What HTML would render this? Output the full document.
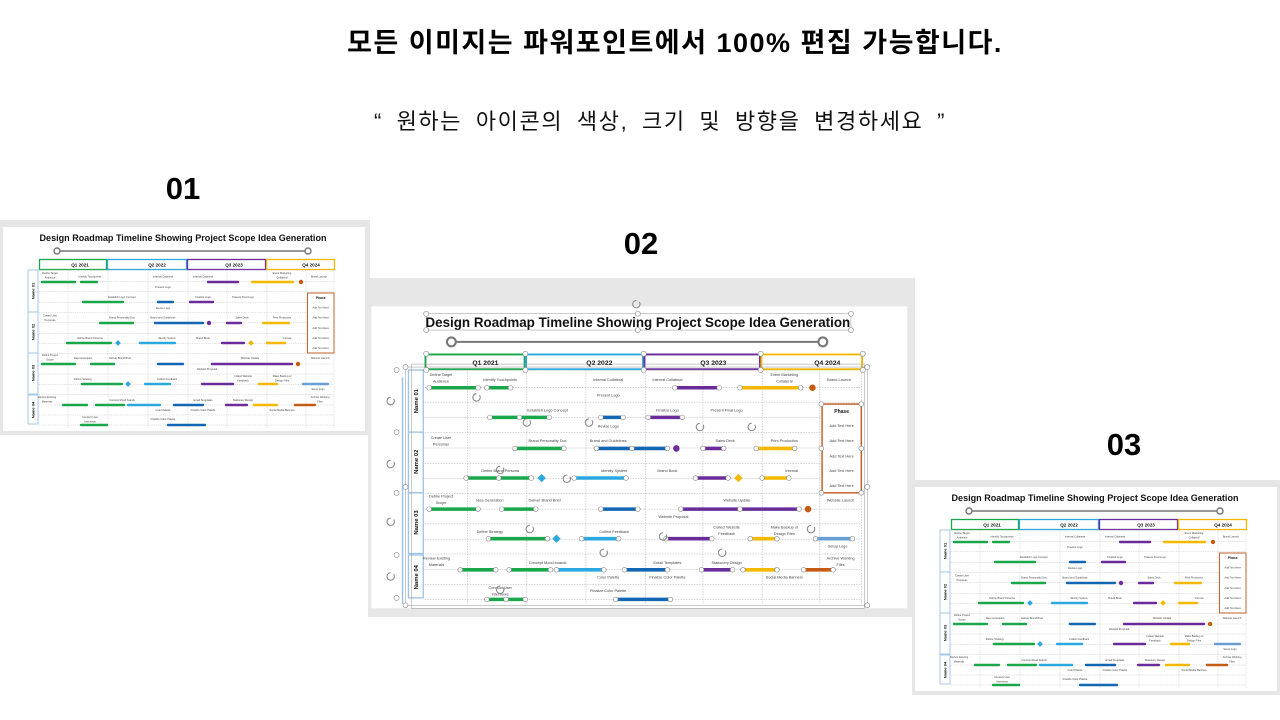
<!DOCTYPE html>
<html><head><meta charset="utf-8">
<style>
html,body{margin:0;padding:0;width:1280px;height:720px;overflow:hidden;background:#fff;font-family:"Liberation Sans","Noto Sans CJK KR",sans-serif;}
.abs{position:absolute;}
.h1{position:absolute;left:35px;width:1280px;top:21px;text-align:center;font-weight:bold;font-size:27px;letter-spacing:1.5px;color:#000;font-family:"Liberation Sans","Noto Sans CJK KR",sans-serif;white-space:nowrap;}
.h2{position:absolute;left:20px;width:1280px;top:104px;text-align:center;font-size:22px;letter-spacing:1.6px;word-spacing:6px;color:#111;font-family:"Liberation Sans","Noto Sans CJK KR",sans-serif;white-space:nowrap;}
.num{position:absolute;font-weight:bold;font-size:31px;color:#000;width:80px;text-align:center;}
svg text{font-family:"Liberation Sans",sans-serif;}
.l{font-size:2.6px;fill:#444;text-anchor:middle;}
.q{font-size:4.6px;font-weight:bold;fill:#111;text-anchor:middle;}
.n{font-size:4px;font-weight:bold;fill:#111;text-anchor:middle;}
</style></head><body>
<div class="h1">모든 이미지는 파워포인트에서 100% 편집 가능합니다.</div>
<div class="h2">“ 원하는 아이콘의 색상, 크기 및 방향을 변경하세요 ”</div>
<div class="num" style="left:143px;top:171px;">01</div>
<div class="num" style="left:601px;top:226px;">02</div>
<div class="num" style="left:1084px;top:427px;">03</div>

<!-- 01 -->
<svg class="abs" style="left:0;top:220px" width="370" height="215" viewBox="0 220 370 215">
<rect x="0" y="220" width="370" height="215" fill="#e6e6e6"/>
<rect x="3" y="227" width="362" height="204" fill="#fff"/>
<text x="183" y="241" font-size="9.5" font-weight="bold" text-anchor="middle" textLength="287" lengthAdjust="spacingAndGlyphs" fill="#111">Design Roadmap Timeline Showing Project Scope Idea Generation</text>
<line x1="57" y1="251" x2="308" y2="251" stroke="#777" stroke-width="1.4"/>
<circle cx="57" cy="251" r="3" fill="#fff" stroke="#777" stroke-width="1.4"/><circle cx="308" cy="251" r="3" fill="#fff" stroke="#777" stroke-width="1.4"/>
<g fill="none" stroke-width="1.3">
<rect x="39.5" y="259.5" width="67" height="10" stroke="#1aa64a"/>
<rect x="107.5" y="259.5" width="79" height="10" stroke="#2ba8e0"/>
<rect x="187.5" y="259.5" width="78" height="10" stroke="#6a2c9a"/>
<rect x="266.5" y="259.5" width="68" height="10" stroke="#f5b800"/>
</g>
<text class="q" x="80" y="266.5">Q1 2021</text><text class="q" x="157" y="266.5">Q2 2022</text><text class="q" x="234" y="266.5">Q3 2023</text><text class="q" x="311" y="266.5">Q4 2024</text>
<g fill="#fff" stroke="#9dc3e6" stroke-width="0.9">
<rect x="28" y="270" width="10" height="42"/><rect x="28" y="312" width="10" height="41"/><rect x="28" y="353" width="10" height="41"/><rect x="28" y="395" width="10" height="29"/>
</g>
<text class="n" transform="translate(34.5 291) rotate(-90)">Name 01</text>
<text class="n" transform="translate(34.5 332) rotate(-90)">Name 02</text>
<text class="n" transform="translate(34.5 373) rotate(-90)">Name 03</text>
<text class="n" transform="translate(34.5 410) rotate(-90)">Name 04</text>
<g stroke="#aaa" stroke-width="0.35" stroke-dasharray="1 0.8">
<line x1="39" y1="270" x2="334" y2="270"/><line x1="39" y1="281.7" x2="334" y2="281.7"/><line x1="39" y1="291.7" x2="334" y2="291.7"/><line x1="39" y1="302.3" x2="334" y2="302.3"/><line x1="39" y1="312.3" x2="334" y2="312.3"/><line x1="39" y1="322.7" x2="334" y2="322.7"/><line x1="39" y1="333.3" x2="334" y2="333.3"/><line x1="39" y1="343.3" x2="334" y2="343.3"/><line x1="39" y1="353.3" x2="334" y2="353.3"/><line x1="39" y1="364" x2="334" y2="364"/><line x1="39" y1="374" x2="334" y2="374"/><line x1="39" y1="384.3" x2="334" y2="384.3"/><line x1="39" y1="394.3" x2="334" y2="394.3"/><line x1="39" y1="405" x2="334" y2="405"/><line x1="39" y1="415" x2="334" y2="415"/><line x1="39" y1="425" x2="334" y2="425"/>
<line x1="68" y1="270" x2="68" y2="428"/><line x1="108" y1="270" x2="108" y2="428"/><line x1="148" y1="270" x2="148" y2="428"/><line x1="188" y1="270" x2="188" y2="428"/><line x1="227" y1="270" x2="227" y2="428"/><line x1="267" y1="270" x2="267" y2="428"/><line x1="306" y1="270" x2="306" y2="428"/><line x1="334" y1="270" x2="334" y2="428"/>
</g>
<g stroke-width="2.4" stroke-linecap="round">
<line x1="42" y1="282" x2="75" y2="282" stroke="#1aa64a"/><line x1="81" y1="282" x2="97" y2="282" stroke="#1aa64a"/><line x1="208" y1="282" x2="238" y2="282" stroke="#6a2c9a"/><line x1="252" y1="282" x2="293" y2="282" stroke="#f5b800"/>
<line x1="83" y1="302" x2="123" y2="302" stroke="#1aa64a"/><line x1="158" y1="302" x2="173" y2="302" stroke="#1565b5"/><line x1="190" y1="302" x2="213" y2="302" stroke="#6a2c9a"/>
<line x1="100" y1="323" x2="133" y2="323" stroke="#1aa64a"/><line x1="155" y1="323" x2="203" y2="323" stroke="#1565b5"/><line x1="227" y1="323" x2="241" y2="323" stroke="#6a2c9a"/><line x1="263" y1="323" x2="289" y2="323" stroke="#f5b800"/>
<line x1="67" y1="343" x2="111" y2="343" stroke="#1aa64a"/><line x1="140" y1="343" x2="175" y2="343" stroke="#2ba8e0"/><line x1="222" y1="343" x2="244" y2="343" stroke="#6a2c9a"/><line x1="267" y1="343" x2="285" y2="343" stroke="#f5b800"/>
<line x1="42" y1="364" x2="75" y2="364" stroke="#1aa64a"/><line x1="91" y1="364" x2="114" y2="364" stroke="#1aa64a"/><line x1="158" y1="364" x2="183" y2="364" stroke="#1565b5"/><line x1="212" y1="364" x2="292" y2="364" stroke="#6a2c9a"/>
<line x1="82" y1="384" x2="122" y2="384" stroke="#1aa64a"/><line x1="145" y1="384" x2="170" y2="384" stroke="#2ba8e0"/><line x1="202" y1="384" x2="233" y2="384" stroke="#6a2c9a"/><line x1="259" y1="384" x2="277" y2="384" stroke="#f5b800"/><line x1="303" y1="384" x2="328" y2="384" stroke="#6a9fd4"/>
<line x1="63" y1="405" x2="87" y2="405" stroke="#1aa64a"/><line x1="96" y1="405" x2="124" y2="405" stroke="#1aa64a"/><line x1="128" y1="405" x2="160" y2="405" stroke="#2ba8e0"/><line x1="174" y1="405" x2="203" y2="405" stroke="#1565b5"/><line x1="226" y1="405" x2="247" y2="405" stroke="#6a2c9a"/><line x1="254" y1="405" x2="277" y2="405" stroke="#f5b800"/><line x1="295" y1="405" x2="315" y2="405" stroke="#c55a11"/>
<line x1="81" y1="425" x2="107" y2="425" stroke="#1aa64a"/><line x1="168" y1="425" x2="205" y2="425" stroke="#1565b5"/>
</g>
<g>
<circle cx="301" cy="282" r="2.2" fill="#c55a11"/><circle cx="209" cy="323" r="2.2" fill="#6a2c9a"/><circle cx="298" cy="364" r="2.2" fill="#c55a11"/>
<rect x="116" y="341" width="4" height="4" fill="#2ba8e0" transform="rotate(45 118 343)"/>
<rect x="249" y="341" width="4" height="4" fill="#f5b800" transform="rotate(45 251 343)"/>
<rect x="126" y="382" width="4" height="4" fill="#2ba8e0" transform="rotate(45 128 384)"/>
</g>
<rect x="307.5" y="293" width="26.5" height="60" fill="#fff" stroke="#c0622b" stroke-width="1"/>
<text x="320.7" y="299" font-size="3.4" font-weight="bold" text-anchor="middle" fill="#222">Phase</text>
<text class="l" x="320.7" y="308.5">Add Text Here</text><text class="l" x="320.7" y="318.5">Add Text Here</text><text class="l" x="320.7" y="329">Add Text Here</text><text class="l" x="320.7" y="339">Add Text Here</text><text class="l" x="320.7" y="349">Add Text Here</text>
<g>
<text class="l" x="50" y="274">Define Target</text><text class="l" x="50" y="278.5">Audience</text>
<text class="l" x="90" y="277.5">Identify Touchpoints</text>
<text class="l" x="163" y="277.5">Internal Collateral</text><text class="l" x="203" y="277.5">Internal Collateral</text>
<text class="l" x="282" y="274">Event Marketing</text><text class="l" x="282" y="278.5">Collateral</text>
<text class="l" x="319" y="277.5">Brand Launch</text>
<text class="l" x="163" y="288">Present Logo</text>
<text class="l" x="122" y="298">Establish Logo Concept</text><text class="l" x="203" y="298">Finalize Logo</text><text class="l" x="243" y="298">Present Final Logo</text>
<text class="l" x="163" y="309">Revise Logo</text>
<text class="l" x="50" y="316.5">Create User</text><text class="l" x="50" y="321">Personas</text>
<text class="l" x="122" y="318.5">Brand Personality Doc</text><text class="l" x="163" y="318.5">Brand and Guidelines</text><text class="l" x="242" y="318.5">Sales Deck</text><text class="l" x="282" y="318.5">Print Production</text>
<text class="l" x="90" y="339">Define Brand Persona</text><text class="l" x="167" y="339">Identity System</text><text class="l" x="203" y="339">Brand Book</text><text class="l" x="287" y="339">Internal</text>
<text class="l" x="50" y="356">Define Project</text><text class="l" x="50" y="360.5">Scope</text>
<text class="l" x="83" y="359">Idea Generation</text><text class="l" x="120" y="359">Deliver Brand Brief</text><text class="l" x="250" y="359">Website Update</text><text class="l" x="320" y="359">Website Launch</text>
<text class="l" x="207" y="370">Website Proposal</text>
<text class="l" x="83" y="380">Define Strategy</text><text class="l" x="167" y="380">Collect Feedback</text>
<text class="l" x="243" y="377">Collect Website</text><text class="l" x="243" y="381.5">Feedback</text>
<text class="l" x="282" y="377">Make Backup of</text><text class="l" x="282" y="381.5">Design Files</text>
<text class="l" x="318" y="390">Setup Logo</text>
<text class="l" x="47" y="398">Review Existing</text><text class="l" x="47" y="402.5">Materials</text>
<text class="l" x="122" y="401">Concept Mood boards</text><text class="l" x="203" y="401">Email Templates</text><text class="l" x="243" y="401">Stationery Design</text>
<text class="l" x="320" y="398">Archive Working</text><text class="l" x="320" y="402.5">Files</text>
<text class="l" x="163" y="411">Color Palette</text><text class="l" x="203" y="411">Finalize Color Palette</text><text class="l" x="282" y="411">Social Media Banners</text>
<text class="l" x="90" y="418">Conduct User</text><text class="l" x="90" y="422.5">Interviews</text>
<text class="l" x="163" y="420">Finalize Color Palette</text>
</g>
</svg>

<!-- 02 -->
<div class="abs" style="left:368px;top:278px;width:547px;height:339px;background:#e7e7e7;"></div>
<svg class="abs" style="left:366.6px;top:295.6px" width="547.6" height="318.2" viewBox="0 220 370 215">
<rect x="3" y="227" width="362" height="204" fill="#fff"/>
<text x="183" y="241" font-size="9.5" font-weight="bold" text-anchor="middle" textLength="287" lengthAdjust="spacingAndGlyphs" fill="#111">Design Roadmap Timeline Showing Project Scope Idea Generation</text>
<line x1="57" y1="251" x2="308" y2="251" stroke="#777" stroke-width="1.4"/>
<circle cx="57" cy="251" r="3" fill="#fff" stroke="#777" stroke-width="1.4"/><circle cx="308" cy="251" r="3" fill="#fff" stroke="#777" stroke-width="1.4"/>
<g fill="none" stroke-width="1.3">
<rect x="39.5" y="259.5" width="67" height="10" stroke="#1aa64a"/>
<rect x="107.5" y="259.5" width="79" height="10" stroke="#2ba8e0"/>
<rect x="187.5" y="259.5" width="78" height="10" stroke="#6a2c9a"/>
<rect x="266.5" y="259.5" width="68" height="10" stroke="#f5b800"/>
</g>
<text class="q" x="80" y="266.5">Q1 2021</text><text class="q" x="157" y="266.5">Q2 2022</text><text class="q" x="234" y="266.5">Q3 2023</text><text class="q" x="311" y="266.5">Q4 2024</text>
<g fill="#fff" stroke="#9dc3e6" stroke-width="0.9">
<rect x="28" y="270" width="10" height="42"/><rect x="28" y="312" width="10" height="41"/><rect x="28" y="353" width="10" height="41"/><rect x="28" y="395" width="10" height="29"/>
</g>
<text class="n" transform="translate(34.5 291) rotate(-90)">Name 01</text>
<text class="n" transform="translate(34.5 332) rotate(-90)">Name 02</text>
<text class="n" transform="translate(34.5 373) rotate(-90)">Name 03</text>
<text class="n" transform="translate(34.5 410) rotate(-90)">Name 04</text>
<g stroke="#aaa" stroke-width="0.35" stroke-dasharray="1 0.8">
<line x1="39" y1="270" x2="334" y2="270"/><line x1="39" y1="281.7" x2="334" y2="281.7"/><line x1="39" y1="291.7" x2="334" y2="291.7"/><line x1="39" y1="302.3" x2="334" y2="302.3"/><line x1="39" y1="312.3" x2="334" y2="312.3"/><line x1="39" y1="322.7" x2="334" y2="322.7"/><line x1="39" y1="333.3" x2="334" y2="333.3"/><line x1="39" y1="343.3" x2="334" y2="343.3"/><line x1="39" y1="353.3" x2="334" y2="353.3"/><line x1="39" y1="364" x2="334" y2="364"/><line x1="39" y1="374" x2="334" y2="374"/><line x1="39" y1="384.3" x2="334" y2="384.3"/><line x1="39" y1="394.3" x2="334" y2="394.3"/><line x1="39" y1="405" x2="334" y2="405"/><line x1="39" y1="415" x2="334" y2="415"/><line x1="39" y1="425" x2="334" y2="425"/>
<line x1="68" y1="270" x2="68" y2="428"/><line x1="108" y1="270" x2="108" y2="428"/><line x1="148" y1="270" x2="148" y2="428"/><line x1="188" y1="270" x2="188" y2="428"/><line x1="227" y1="270" x2="227" y2="428"/><line x1="267" y1="270" x2="267" y2="428"/><line x1="306" y1="270" x2="306" y2="428"/><line x1="334" y1="270" x2="334" y2="428"/>
</g>
<g stroke-width="2.4" stroke-linecap="round">
<line x1="42" y1="282" x2="75" y2="282" stroke="#1aa64a"/><line x1="81" y1="282" x2="97" y2="282" stroke="#1aa64a"/><line x1="208" y1="282" x2="238" y2="282" stroke="#6a2c9a"/><line x1="252" y1="282" x2="293" y2="282" stroke="#f5b800"/>
<line x1="83" y1="302" x2="123" y2="302" stroke="#1aa64a"/><line x1="158" y1="302" x2="173" y2="302" stroke="#1565b5"/><line x1="190" y1="302" x2="213" y2="302" stroke="#6a2c9a"/>
<line x1="100" y1="323" x2="133" y2="323" stroke="#1aa64a"/><line x1="155" y1="323" x2="203" y2="323" stroke="#1565b5"/><line x1="227" y1="323" x2="241" y2="323" stroke="#6a2c9a"/><line x1="263" y1="323" x2="289" y2="323" stroke="#f5b800"/>
<line x1="67" y1="343" x2="111" y2="343" stroke="#1aa64a"/><line x1="140" y1="343" x2="175" y2="343" stroke="#2ba8e0"/><line x1="222" y1="343" x2="244" y2="343" stroke="#6a2c9a"/><line x1="267" y1="343" x2="285" y2="343" stroke="#f5b800"/>
<line x1="42" y1="364" x2="75" y2="364" stroke="#1aa64a"/><line x1="91" y1="364" x2="114" y2="364" stroke="#1aa64a"/><line x1="158" y1="364" x2="183" y2="364" stroke="#1565b5"/><line x1="212" y1="364" x2="292" y2="364" stroke="#6a2c9a"/>
<line x1="82" y1="384" x2="122" y2="384" stroke="#1aa64a"/><line x1="145" y1="384" x2="170" y2="384" stroke="#2ba8e0"/><line x1="202" y1="384" x2="233" y2="384" stroke="#6a2c9a"/><line x1="259" y1="384" x2="277" y2="384" stroke="#f5b800"/><line x1="303" y1="384" x2="328" y2="384" stroke="#6a9fd4"/>
<line x1="63" y1="405" x2="87" y2="405" stroke="#1aa64a"/><line x1="96" y1="405" x2="124" y2="405" stroke="#1aa64a"/><line x1="128" y1="405" x2="160" y2="405" stroke="#2ba8e0"/><line x1="174" y1="405" x2="203" y2="405" stroke="#1565b5"/><line x1="226" y1="405" x2="247" y2="405" stroke="#6a2c9a"/><line x1="254" y1="405" x2="277" y2="405" stroke="#f5b800"/><line x1="295" y1="405" x2="315" y2="405" stroke="#c55a11"/>
<line x1="81" y1="425" x2="107" y2="425" stroke="#1aa64a"/><line x1="168" y1="425" x2="205" y2="425" stroke="#1565b5"/>
</g>
<g>
<circle cx="301" cy="282" r="2.2" fill="#c55a11"/><circle cx="209" cy="323" r="2.2" fill="#6a2c9a"/><circle cx="298" cy="364" r="2.2" fill="#c55a11"/>
<rect x="116" y="341" width="4" height="4" fill="#2ba8e0" transform="rotate(45 118 343)"/>
<rect x="249" y="341" width="4" height="4" fill="#f5b800" transform="rotate(45 251 343)"/>
<rect x="126" y="382" width="4" height="4" fill="#2ba8e0" transform="rotate(45 128 384)"/>
</g>
<rect x="307.5" y="293" width="26.5" height="60" fill="#fff" stroke="#c0622b" stroke-width="1"/>
<text x="320.7" y="299" font-size="3.4" font-weight="bold" text-anchor="middle" fill="#222">Phase</text>
<text class="l" x="320.7" y="308.5">Add Text Here</text><text class="l" x="320.7" y="318.5">Add Text Here</text><text class="l" x="320.7" y="329">Add Text Here</text><text class="l" x="320.7" y="339">Add Text Here</text><text class="l" x="320.7" y="349">Add Text Here</text>
<g>
<text class="l" x="50" y="274">Define Target</text><text class="l" x="50" y="278.5">Audience</text>
<text class="l" x="90" y="277.5">Identify Touchpoints</text>
<text class="l" x="163" y="277.5">Internal Collateral</text><text class="l" x="203" y="277.5">Internal Collateral</text>
<text class="l" x="282" y="274">Event Marketing</text><text class="l" x="282" y="278.5">Collateral</text>
<text class="l" x="319" y="277.5">Brand Launch</text>
<text class="l" x="163" y="288">Present Logo</text>
<text class="l" x="122" y="298">Establish Logo Concept</text><text class="l" x="203" y="298">Finalize Logo</text><text class="l" x="243" y="298">Present Final Logo</text>
<text class="l" x="163" y="309">Revise Logo</text>
<text class="l" x="50" y="316.5">Create User</text><text class="l" x="50" y="321">Personas</text>
<text class="l" x="122" y="318.5">Brand Personality Doc</text><text class="l" x="163" y="318.5">Brand and Guidelines</text><text class="l" x="242" y="318.5">Sales Deck</text><text class="l" x="282" y="318.5">Print Production</text>
<text class="l" x="90" y="339">Define Brand Persona</text><text class="l" x="167" y="339">Identity System</text><text class="l" x="203" y="339">Brand Book</text><text class="l" x="287" y="339">Internal</text>
<text class="l" x="50" y="356">Define Project</text><text class="l" x="50" y="360.5">Scope</text>
<text class="l" x="83" y="359">Idea Generation</text><text class="l" x="120" y="359">Deliver Brand Brief</text><text class="l" x="250" y="359">Website Update</text><text class="l" x="320" y="359">Website Launch</text>
<text class="l" x="207" y="370">Website Proposal</text>
<text class="l" x="83" y="380">Define Strategy</text><text class="l" x="167" y="380">Collect Feedback</text>
<text class="l" x="243" y="377">Collect Website</text><text class="l" x="243" y="381.5">Feedback</text>
<text class="l" x="282" y="377">Make Backup of</text><text class="l" x="282" y="381.5">Design Files</text>
<text class="l" x="318" y="390">Setup Logo</text>
<text class="l" x="47" y="398">Review Existing</text><text class="l" x="47" y="402.5">Materials</text>
<text class="l" x="122" y="401">Concept Mood boards</text><text class="l" x="203" y="401">Email Templates</text><text class="l" x="243" y="401">Stationery Design</text>
<text class="l" x="320" y="398">Archive Working</text><text class="l" x="320" y="402.5">Files</text>
<text class="l" x="163" y="411">Color Palette</text><text class="l" x="203" y="411">Finalize Color Palette</text><text class="l" x="282" y="411">Social Media Banners</text>
<text class="l" x="90" y="418">Conduct User</text><text class="l" x="90" y="422.5">Interviews</text>
<text class="l" x="163" y="420">Finalize Color Palette</text>
</g>
<!-- selection handles -->
<g fill="none" stroke="#999" stroke-width="0.35">
<rect x="40" y="232" width="287" height="11"/><rect x="26" y="268" width="312" height="161"/><rect x="30" y="266" width="306" height="165"/>
<line x1="24" y1="275" x2="24" y2="428" stroke="#9dc3e6" stroke-width="1"/>
</g>
<g fill="#fff" stroke="#888" stroke-width="0.4">
<circle cx="40" cy="232" r="1.7"/><circle cx="327" cy="232" r="1.7"/><circle cx="40" cy="243" r="1.7"/><circle cx="327" cy="243" r="1.7"/><circle cx="183" cy="232" r="1.7"/><circle cx="183" cy="243" r="1.7"/>
<circle cx="26" cy="268" r="1.7"/><circle cx="338" cy="268" r="1.7"/><circle cx="26" cy="429" r="1.7"/><circle cx="338" cy="429" r="1.7"/><circle cx="26" cy="349" r="1.7"/><circle cx="338" cy="349" r="1.7"/>
<circle cx="20" cy="270" r="1.7"/><circle cx="20" cy="312" r="1.7"/><circle cx="20" cy="353" r="1.7"/><circle cx="20" cy="395" r="1.7"/><circle cx="20" cy="424" r="1.7"/>
<circle cx="40" cy="259" r="1.7"/><circle cx="107" cy="259" r="1.7"/><circle cx="187" cy="259" r="1.7"/><circle cx="266" cy="259" r="1.7"/><circle cx="335" cy="259" r="1.7"/>
<circle cx="40" cy="270" r="1.7"/><circle cx="107" cy="270" r="1.7"/><circle cx="187" cy="270" r="1.7"/><circle cx="266" cy="270" r="1.7"/><circle cx="335" cy="270" r="1.7"/>
<circle cx="42" cy="282" r="1.6"/><circle cx="75" cy="282" r="1.6"/><circle cx="81" cy="282" r="1.6"/><circle cx="97" cy="282" r="1.6"/><circle cx="208" cy="282" r="1.6"/><circle cx="238" cy="282" r="1.6"/><circle cx="252" cy="282" r="1.6"/><circle cx="293" cy="282" r="1.6"/>
<circle cx="83" cy="302" r="1.6"/><circle cx="123" cy="302" r="1.6"/><circle cx="103" cy="302" r="1.6"/><circle cx="158" cy="302" r="1.6"/><circle cx="173" cy="302" r="1.6"/><circle cx="190" cy="302" r="1.6"/><circle cx="213" cy="302" r="1.6"/>
<circle cx="100" cy="323" r="1.6"/><circle cx="133" cy="323" r="1.6"/><circle cx="155" cy="323" r="1.6"/><circle cx="203" cy="323" r="1.6"/><circle cx="179" cy="323" r="1.6"/><circle cx="227" cy="323" r="1.6"/><circle cx="241" cy="323" r="1.6"/><circle cx="263" cy="323" r="1.6"/><circle cx="289" cy="323" r="1.6"/>
<circle cx="67" cy="343" r="1.6"/><circle cx="111" cy="343" r="1.6"/><circle cx="89" cy="343" r="1.6"/><circle cx="140" cy="343" r="1.6"/><circle cx="175" cy="343" r="1.6"/><circle cx="222" cy="343" r="1.6"/><circle cx="244" cy="343" r="1.6"/><circle cx="267" cy="343" r="1.6"/><circle cx="285" cy="343" r="1.6"/>
<circle cx="42" cy="364" r="1.6"/><circle cx="75" cy="364" r="1.6"/><circle cx="91" cy="364" r="1.6"/><circle cx="114" cy="364" r="1.6"/><circle cx="158" cy="364" r="1.6"/><circle cx="183" cy="364" r="1.6"/><circle cx="212" cy="364" r="1.6"/><circle cx="292" cy="364" r="1.6"/><circle cx="252" cy="364" r="1.6"/>
<circle cx="82" cy="384" r="1.6"/><circle cx="122" cy="384" r="1.6"/><circle cx="145" cy="384" r="1.6"/><circle cx="170" cy="384" r="1.6"/><circle cx="202" cy="384" r="1.6"/><circle cx="233" cy="384" r="1.6"/><circle cx="259" cy="384" r="1.6"/><circle cx="277" cy="384" r="1.6"/><circle cx="303" cy="384" r="1.6"/><circle cx="328" cy="384" r="1.6"/>
<circle cx="63" cy="405" r="1.6"/><circle cx="87" cy="405" r="1.6"/><circle cx="96" cy="405" r="1.6"/><circle cx="124" cy="405" r="1.6"/><circle cx="128" cy="405" r="1.6"/><circle cx="160" cy="405" r="1.6"/><circle cx="174" cy="405" r="1.6"/><circle cx="203" cy="405" r="1.6"/><circle cx="226" cy="405" r="1.6"/><circle cx="247" cy="405" r="1.6"/><circle cx="254" cy="405" r="1.6"/><circle cx="277" cy="405" r="1.6"/><circle cx="295" cy="405" r="1.6"/><circle cx="315" cy="405" r="1.6"/>
<circle cx="81" cy="425" r="1.6"/><circle cx="107" cy="425" r="1.6"/><circle cx="94" cy="425" r="1.6"/><circle cx="168" cy="425" r="1.6"/><circle cx="205" cy="425" r="1.6"/>
<circle cx="307" cy="293" r="1.6"/><circle cx="334" cy="293" r="1.6"/><circle cx="307" cy="353" r="1.6"/><circle cx="334" cy="353" r="1.6"/><circle cx="307" cy="323" r="1.6"/><circle cx="334" cy="323" r="1.6"/>
</g>
<g fill="none" stroke="#888" stroke-width="0.7">
<path d="M16 288.5 a2.5 2.5 0 1 0 2 1"/><path d="M16 331 a2.5 2.5 0 1 0 2 1"/><path d="M16 370 a2.5 2.5 0 1 0 2 1"/><path d="M16 407 a2.5 2.5 0 1 0 2 1"/>
<path d="M182 223 a2.5 2.5 0 1 0 2 1"/><path d="M74 286 a2.5 2.5 0 1 0 2 1"/><path d="M108 303 a2.5 2.5 0 1 0 2 1"/><path d="M150 303 a2.5 2.5 0 1 0 2 1"/><path d="M90 335 a2.5 2.5 0 1 0 2 1"/><path d="M135 341 a2.5 2.5 0 1 0 2 1"/><path d="M225 306 a2.5 2.5 0 1 0 2 1"/><path d="M260 306 a2.5 2.5 0 1 0 2 1"/><path d="M200 380 a2.5 2.5 0 1 0 2 1"/><path d="M110 375 a2.5 2.5 0 1 0 2 1"/><path d="M160 391 a2.5 2.5 0 1 0 2 1"/><path d="M240 391 a2.5 2.5 0 1 0 2 1"/><path d="M300 375 a2.5 2.5 0 1 0 2 1"/><path d="M90 416 a2.5 2.5 0 1 0 2 1"/>
</g>
</svg>

<!-- 03 -->
<svg class="abs" style="left:912px;top:480px" width="370" height="215" viewBox="0 220 370 215">
<rect x="0" y="220" width="370" height="215" fill="#e6e6e6"/>
<rect x="3" y="227" width="362" height="204" fill="#fff"/>
<text x="183" y="241" font-size="9.5" font-weight="bold" text-anchor="middle" textLength="287" lengthAdjust="spacingAndGlyphs" fill="#111">Design Roadmap Timeline Showing Project Scope Idea Generation</text>
<line x1="57" y1="251" x2="308" y2="251" stroke="#777" stroke-width="1.4"/>
<circle cx="57" cy="251" r="3" fill="#fff" stroke="#777" stroke-width="1.4"/><circle cx="308" cy="251" r="3" fill="#fff" stroke="#777" stroke-width="1.4"/>
<g fill="none" stroke-width="1.3">
<rect x="39.5" y="259.5" width="67" height="10" stroke="#1aa64a"/>
<rect x="107.5" y="259.5" width="79" height="10" stroke="#2ba8e0"/>
<rect x="187.5" y="259.5" width="78" height="10" stroke="#6a2c9a"/>
<rect x="266.5" y="259.5" width="68" height="10" stroke="#f5b800"/>
</g>
<text class="q" x="80" y="266.5">Q1 2021</text><text class="q" x="157" y="266.5">Q2 2022</text><text class="q" x="234" y="266.5">Q3 2023</text><text class="q" x="311" y="266.5">Q4 2024</text>
<g fill="#fff" stroke="#9dc3e6" stroke-width="0.9">
<rect x="28" y="270" width="10" height="42"/><rect x="28" y="312" width="10" height="41"/><rect x="28" y="353" width="10" height="41"/><rect x="28" y="395" width="10" height="29"/>
</g>
<text class="n" transform="translate(34.5 291) rotate(-90)">Name 01</text>
<text class="n" transform="translate(34.5 332) rotate(-90)">Name 02</text>
<text class="n" transform="translate(34.5 373) rotate(-90)">Name 03</text>
<text class="n" transform="translate(34.5 410) rotate(-90)">Name 04</text>
<g stroke="#aaa" stroke-width="0.35" stroke-dasharray="1 0.8">
<line x1="39" y1="270" x2="334" y2="270"/><line x1="39" y1="281.7" x2="334" y2="281.7"/><line x1="39" y1="291.7" x2="334" y2="291.7"/><line x1="39" y1="302.3" x2="334" y2="302.3"/><line x1="39" y1="312.3" x2="334" y2="312.3"/><line x1="39" y1="322.7" x2="334" y2="322.7"/><line x1="39" y1="333.3" x2="334" y2="333.3"/><line x1="39" y1="343.3" x2="334" y2="343.3"/><line x1="39" y1="353.3" x2="334" y2="353.3"/><line x1="39" y1="364" x2="334" y2="364"/><line x1="39" y1="374" x2="334" y2="374"/><line x1="39" y1="384.3" x2="334" y2="384.3"/><line x1="39" y1="394.3" x2="334" y2="394.3"/><line x1="39" y1="405" x2="334" y2="405"/><line x1="39" y1="415" x2="334" y2="415"/><line x1="39" y1="425" x2="334" y2="425"/>
<line x1="68" y1="270" x2="68" y2="428"/><line x1="108" y1="270" x2="108" y2="428"/><line x1="148" y1="270" x2="148" y2="428"/><line x1="188" y1="270" x2="188" y2="428"/><line x1="227" y1="270" x2="227" y2="428"/><line x1="267" y1="270" x2="267" y2="428"/><line x1="306" y1="270" x2="306" y2="428"/><line x1="334" y1="270" x2="334" y2="428"/>
</g>
<g stroke-width="2.4" stroke-linecap="round">
<line x1="42" y1="282" x2="75" y2="282" stroke="#1aa64a"/><line x1="81" y1="282" x2="97" y2="282" stroke="#1aa64a"/><line x1="208" y1="282" x2="238" y2="282" stroke="#6a2c9a"/><line x1="252" y1="282" x2="293" y2="282" stroke="#f5b800"/>
<line x1="83" y1="302" x2="123" y2="302" stroke="#1aa64a"/><line x1="158" y1="302" x2="173" y2="302" stroke="#1565b5"/><line x1="190" y1="302" x2="213" y2="302" stroke="#6a2c9a"/>
<line x1="100" y1="323" x2="133" y2="323" stroke="#1aa64a"/><line x1="155" y1="323" x2="203" y2="323" stroke="#1565b5"/><line x1="227" y1="323" x2="241" y2="323" stroke="#6a2c9a"/><line x1="263" y1="323" x2="289" y2="323" stroke="#f5b800"/>
<line x1="67" y1="343" x2="111" y2="343" stroke="#1aa64a"/><line x1="140" y1="343" x2="175" y2="343" stroke="#2ba8e0"/><line x1="222" y1="343" x2="244" y2="343" stroke="#6a2c9a"/><line x1="267" y1="343" x2="285" y2="343" stroke="#f5b800"/>
<line x1="42" y1="364" x2="75" y2="364" stroke="#1aa64a"/><line x1="91" y1="364" x2="114" y2="364" stroke="#1aa64a"/><line x1="158" y1="364" x2="183" y2="364" stroke="#1565b5"/><line x1="212" y1="364" x2="292" y2="364" stroke="#6a2c9a"/>
<line x1="82" y1="384" x2="122" y2="384" stroke="#1aa64a"/><line x1="145" y1="384" x2="170" y2="384" stroke="#2ba8e0"/><line x1="202" y1="384" x2="233" y2="384" stroke="#6a2c9a"/><line x1="259" y1="384" x2="277" y2="384" stroke="#f5b800"/><line x1="303" y1="384" x2="328" y2="384" stroke="#6a9fd4"/>
<line x1="63" y1="405" x2="87" y2="405" stroke="#1aa64a"/><line x1="96" y1="405" x2="124" y2="405" stroke="#1aa64a"/><line x1="128" y1="405" x2="160" y2="405" stroke="#2ba8e0"/><line x1="174" y1="405" x2="203" y2="405" stroke="#1565b5"/><line x1="226" y1="405" x2="247" y2="405" stroke="#6a2c9a"/><line x1="254" y1="405" x2="277" y2="405" stroke="#f5b800"/><line x1="295" y1="405" x2="315" y2="405" stroke="#c55a11"/>
<line x1="81" y1="425" x2="107" y2="425" stroke="#1aa64a"/><line x1="168" y1="425" x2="205" y2="425" stroke="#1565b5"/>
</g>
<g>
<circle cx="301" cy="282" r="2.2" fill="#c55a11"/><circle cx="209" cy="323" r="2.2" fill="#6a2c9a"/><circle cx="298" cy="364" r="2.2" fill="#c55a11"/>
<rect x="116" y="341" width="4" height="4" fill="#2ba8e0" transform="rotate(45 118 343)"/>
<rect x="249" y="341" width="4" height="4" fill="#f5b800" transform="rotate(45 251 343)"/>
<rect x="126" y="382" width="4" height="4" fill="#2ba8e0" transform="rotate(45 128 384)"/>
</g>
<rect x="307.5" y="293" width="26.5" height="60" fill="#fff" stroke="#c0622b" stroke-width="1"/>
<text x="320.7" y="299" font-size="3.4" font-weight="bold" text-anchor="middle" fill="#222">Phase</text>
<text class="l" x="320.7" y="308.5">Add Text Here</text><text class="l" x="320.7" y="318.5">Add Text Here</text><text class="l" x="320.7" y="329">Add Text Here</text><text class="l" x="320.7" y="339">Add Text Here</text><text class="l" x="320.7" y="349">Add Text Here</text>
<g>
<text class="l" x="50" y="274">Define Target</text><text class="l" x="50" y="278.5">Audience</text>
<text class="l" x="90" y="277.5">Identify Touchpoints</text>
<text class="l" x="163" y="277.5">Internal Collateral</text><text class="l" x="203" y="277.5">Internal Collateral</text>
<text class="l" x="282" y="274">Event Marketing</text><text class="l" x="282" y="278.5">Collateral</text>
<text class="l" x="319" y="277.5">Brand Launch</text>
<text class="l" x="163" y="288">Present Logo</text>
<text class="l" x="122" y="298">Establish Logo Concept</text><text class="l" x="203" y="298">Finalize Logo</text><text class="l" x="243" y="298">Present Final Logo</text>
<text class="l" x="163" y="309">Revise Logo</text>
<text class="l" x="50" y="316.5">Create User</text><text class="l" x="50" y="321">Personas</text>
<text class="l" x="122" y="318.5">Brand Personality Doc</text><text class="l" x="163" y="318.5">Brand and Guidelines</text><text class="l" x="242" y="318.5">Sales Deck</text><text class="l" x="282" y="318.5">Print Production</text>
<text class="l" x="90" y="339">Define Brand Persona</text><text class="l" x="167" y="339">Identity System</text><text class="l" x="203" y="339">Brand Book</text><text class="l" x="287" y="339">Internal</text>
<text class="l" x="50" y="356">Define Project</text><text class="l" x="50" y="360.5">Scope</text>
<text class="l" x="83" y="359">Idea Generation</text><text class="l" x="120" y="359">Deliver Brand Brief</text><text class="l" x="250" y="359">Website Update</text><text class="l" x="320" y="359">Website Launch</text>
<text class="l" x="207" y="370">Website Proposal</text>
<text class="l" x="83" y="380">Define Strategy</text><text class="l" x="167" y="380">Collect Feedback</text>
<text class="l" x="243" y="377">Collect Website</text><text class="l" x="243" y="381.5">Feedback</text>
<text class="l" x="282" y="377">Make Backup of</text><text class="l" x="282" y="381.5">Design Files</text>
<text class="l" x="318" y="390">Setup Logo</text>
<text class="l" x="47" y="398">Review Existing</text><text class="l" x="47" y="402.5">Materials</text>
<text class="l" x="122" y="401">Concept Mood boards</text><text class="l" x="203" y="401">Email Templates</text><text class="l" x="243" y="401">Stationery Design</text>
<text class="l" x="320" y="398">Archive Working</text><text class="l" x="320" y="402.5">Files</text>
<text class="l" x="163" y="411">Color Palette</text><text class="l" x="203" y="411">Finalize Color Palette</text><text class="l" x="282" y="411">Social Media Banners</text>
<text class="l" x="90" y="418">Conduct User</text><text class="l" x="90" y="422.5">Interviews</text>
<text class="l" x="163" y="420">Finalize Color Palette</text>
</g>
</svg>
</body></html>
